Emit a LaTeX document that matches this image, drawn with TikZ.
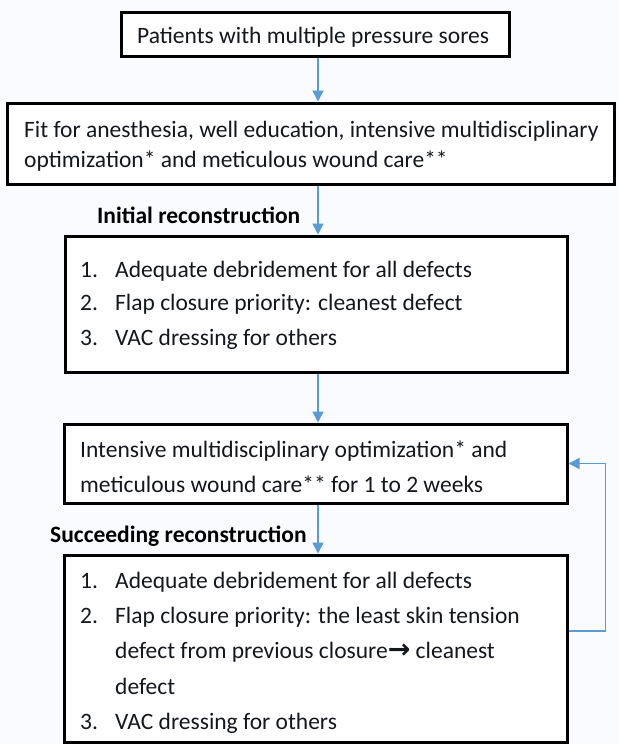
\documentclass[tikz,border=0pt]{standalone}
\usepackage{fontspec}
\setmainfont{Carlito}
\newfontfamily\arrowfont{DejaVu Sans}
\usetikzlibrary{arrows.meta,calc}
\definecolor{arrowblue}{RGB}{91,155,213}
\definecolor{bgc}{RGB}{250,251,254}
\definecolor{ink}{RGB}{20,24,28}
\begin{document}
\begin{tikzpicture}[x=1pt,y=-1pt,
  boxnode/.style={draw=black, line width=3pt, rectangle, inner sep=0pt, fill=white},
  txt/.style={anchor=base west, inner sep=0pt, font=\fontsize{23.5}{28}\selectfont, text=ink},
  lbl/.style={anchor=base west, inner sep=0pt, font=\fontsize{23.5}{28}\selectfont\bfseries, text=black},
  arr/.style={draw=arrowblue, line width=1.6pt, -{Triangle[length=11pt,width=11pt]}}]
\fill[bgc] (0,0) rectangle (619,744);
\useasboundingbox (0,0) rectangle (619,744);
% boxes
\node[boxnode, minimum width=388pt, minimum height=44pt] (b1) at (315,34) {};
\node[boxnode, minimum width=607pt, minimum height=81pt] (b2) at (310.5,143.5) {};
\node[boxnode, minimum width=502pt, minimum height=136pt] (b3) at (316,304) {};
\node[boxnode, minimum width=503pt, minimum height=79pt] (b4) at (315.5,463.5) {};
\node[boxnode, minimum width=503pt, minimum height=187pt] (b5) at (315.5,648.5) {};
% texts
\node[txt] (t1) at (137,43) {Patients with multiple pressure sores};
\node[txt] (t2a) at (24,137) {Fit for anesthesia, well education, intensive multidisciplinary};
\node[txt] (t2b) at (24,167) {optimization* and meticulous wound care**};
\node[lbl] (l1) at (97,223) {Initial reconstruction};
\node[txt] (n31) at (80,277) {1.};
\node[txt] (t31) at (115,277) {Adequate debridement for all defects};
\node[txt] (n32) at (80,310) {2.};
\node[txt] (t32) at (115,310) {Flap closure priority: cleanest defect};
\node[txt] (n33) at (80,345) {3.};
\node[txt] (t33) at (115,345) {VAC dressing for others};
\node[txt] (t4a) at (80,457) {Intensive multidisciplinary optimization* and};
\node[txt] (t4b) at (80,492) {meticulous wound care** for 1 to 2 weeks};
\node[lbl] (l2) at (50,542) {Succeeding reconstruction};
\node[txt] (n51) at (80,588) {1.};
\node[txt] (t51) at (115,588) {Adequate debridement for all defects};
\node[txt] (n52) at (80,623) {2.};
\node[txt] (t52) at (115,623) {Flap closure priority: the least skin tension};
\node[txt] (t52b) at (115,658) {defect from previous closure{\arrowfont\fontsize{27}{28}\selectfont\bfseries →} cleanest};
\node[txt] (t52c) at (115,694) {defect};
\node[txt] (n53) at (80,729) {3.};
\node[txt] (t53) at (115,729) {VAC dressing for others};
% connectors
\coordinate (ax) at (318,0);
\draw[arr] (b1.south -| ax) -- (b2.north -| ax);
\draw[arr] (b2.south -| ax) -- (b3.north -| ax);
\draw[arr] (b3.south -| ax) -- (b4.north -| ax);
\draw[arr] (b4.south -| ax) -- (b5.north -| ax);
\coordinate (loopstart) at ($(b5.east)+(0,-17.5)$);
\coordinate (loopcorner) at ($(b4.east)+(37,0)$);
\draw[arr] (loopstart) -| (loopcorner) -- (b4.east);
\end{tikzpicture}
\end{document}
